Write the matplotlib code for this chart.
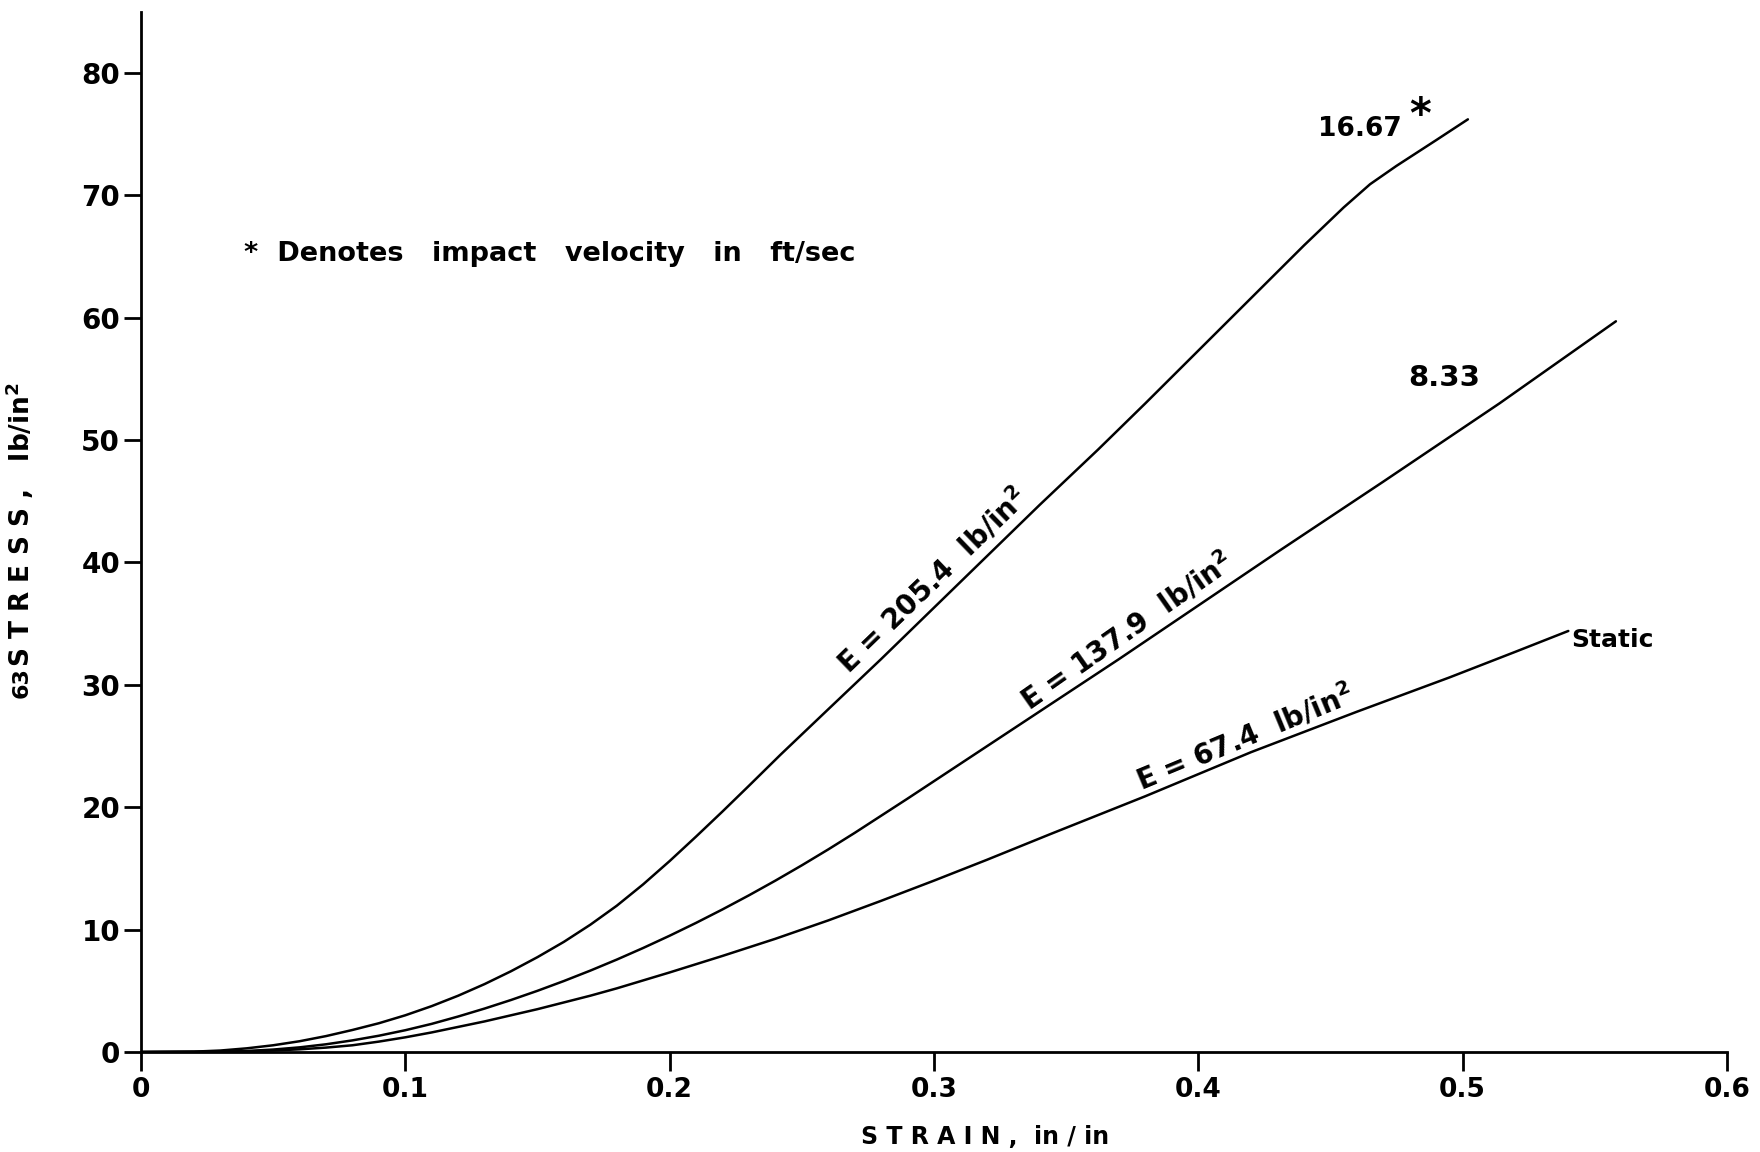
import matplotlib
matplotlib.use("Agg")
import matplotlib.pyplot as plt

# ---- data ----
strain_1667 = [0, 0.02, 0.03, 0.04, 0.05, 0.06, 0.07, 0.08, 0.09, 0.10, 0.11, 0.12, 0.13,
               0.14, 0.15, 0.16, 0.17, 0.18, 0.19, 0.20, 0.21, 0.22, 0.23, 0.242, 0.26,
               0.28, 0.30, 0.32, 0.34, 0.362, 0.38, 0.40, 0.42, 0.44, 0.455, 0.465,
               0.475, 0.49, 0.502]
stress_1667 = [0, 0.03, 0.12, 0.3, 0.55, 0.88, 1.3, 1.8, 2.35, 3.0, 3.75, 4.6, 5.55,
               6.6, 7.75, 9.0, 10.4, 11.95, 13.7, 15.6, 17.6, 19.65, 21.75, 24.3, 28.0,
               32.1, 36.3, 40.5, 44.7, 49.2, 53.0, 57.3, 61.6, 65.9, 69.0, 70.9,
               72.4, 74.5, 76.2]

strain_833 = [0, 0.03, 0.04, 0.05, 0.06, 0.07, 0.08, 0.09, 0.10, 0.11, 0.12, 0.13, 0.14,
              0.15, 0.16, 0.17, 0.18, 0.19, 0.20, 0.21, 0.22, 0.23, 0.24, 0.25, 0.26,
              0.27, 0.28, 0.29, 0.33, 0.37, 0.431, 0.47, 0.514, 0.558]
stress_833 = [0, 0.02, 0.08, 0.2, 0.38, 0.63, 0.95, 1.33, 1.78, 2.3, 2.9, 3.55, 4.25,
              5.0, 5.8, 6.65, 7.55, 8.5, 9.5, 10.55, 11.65, 12.8, 14.0, 15.25, 16.55,
              17.9, 19.3, 20.7, 26.4, 32.1, 41.0, 46.6, 53.0, 59.7]

strain_static = [0, 0.03, 0.04, 0.05, 0.06, 0.07, 0.08, 0.09, 0.10, 0.11, 0.12, 0.13,
                 0.14, 0.15, 0.16, 0.17, 0.18, 0.19, 0.20, 0.22, 0.24, 0.26, 0.28, 0.30,
                 0.32, 0.344, 0.38, 0.42, 0.46, 0.495, 0.52, 0.54]
stress_static = [0, 0.02, 0.06, 0.12, 0.22, 0.36, 0.55, 0.85, 1.2, 1.6, 2.05, 2.5,
                 3.0, 3.5, 4.05, 4.6, 5.2, 5.85, 6.5, 7.85, 9.25, 10.75, 12.35, 14.0,
                 15.7, 17.8, 20.9, 24.5, 27.8, 30.6, 32.7, 34.4]

x_ticks = [0, 0.1, 0.2, 0.3, 0.4, 0.5, 0.6]
x_tick_labels = ["0", "0.1", "0.2", "0.3", "0.4", "0.5", "0.6"]
y_ticks = [0, 10, 20, 30, 40, 50, 60, 70, 80]
y_tick_labels = ["0", "10", "20", "30", "40", "50", "60", "70", "80"]

end_labels = ["16.67", "8.33", "Static"]
modulus_labels = [r"E = 205.4  lb/in$^2$", r"E = 137.9  lb/in$^2$", r"E = 67.4  lb/in$^2$"]

# ---- style ----
plt.rcParams["font.family"] = ["DejaVu Sans"]
plt.rcParams["font.weight"] = "bold"
plt.rcParams["mathtext.fontset"] = "custom"
plt.rcParams["mathtext.rm"] = "DejaVu Sans:bold"
plt.rcParams["mathtext.default"] = "rm"

fig = plt.figure(figsize=(17.6, 11.52), dpi=100)
ax = fig.add_axes([0.0801, 0.0868, 0.9011, 0.9031])

lw = 1.8
for xs, ys in [(strain_1667, stress_1667), (strain_833, stress_833),
               (strain_static, stress_static)]:
    ax.plot(xs, ys, color="black", lw=lw, solid_capstyle="round",
            solid_joinstyle="round")

ax.set_xlim(0, 0.6)
ax.set_ylim(0, 85)

for s in ["top", "right"]:
    ax.spines[s].set_visible(False)
for s in ["left", "bottom"]:
    ax.spines[s].set_linewidth(2.0)

ax.set_xticks(x_ticks)
ax.set_xticklabels(x_tick_labels)
ax.set_yticks(y_ticks)
ax.set_yticklabels(y_tick_labels)
ax.tick_params(axis="x", direction="out", length=14, width=2.0, pad=4,
               labelsize=19)
ax.tick_params(axis="y", direction="out", length=12, width=2.0, pad=3,
               labelsize=20)
for lab in ax.get_xticklabels() + ax.get_yticklabels():
    lab.set_fontweight("bold")

# axis titles
fig.text(985 / 1760, 1 - 1137 / 1152, "S T R A I N ,  in / in", ha="center",
         va="center", fontsize=17, fontweight="bold")
fig.text(20 / 1760, 1 - 525 / 1152, r"S T R E S S ,   lb/in$^2$", ha="center",
         va="center", rotation=90, fontsize=19, fontweight="bold")
fig.text(22 / 1760, 1 - 683 / 1152, "63", ha="center", va="center",
         rotation=90, fontsize=16, fontweight="bold")

# curve end labels
ax.text(0.461, 75.4, end_labels[0], ha="center", va="center", fontsize=19,
        fontweight="bold")
ax.text(0.484, 76.5, "*", ha="center", va="center", fontsize=30,
        fontweight="bold")
ax.text(0.493, 55.1, end_labels[1], ha="center", va="center", fontsize=21,
        fontweight="bold")
ax.text(0.541, 33.7, end_labels[2], ha="left", va="center", fontsize=18,
        fontweight="bold")

# modulus labels along curves
ax.text(0.302, 38.0, modulus_labels[0], ha="center", va="baseline",
        rotation=44, rotation_mode="anchor", fontsize=20, fontweight="bold")
ax.text(0.375, 33.7, modulus_labels[1], ha="center", va="baseline",
        rotation=35, rotation_mode="anchor", fontsize=20, fontweight="bold")
ax.text(0.419, 25.0, modulus_labels[2], ha="center", va="baseline",
        rotation=22.5, rotation_mode="anchor", fontsize=20, fontweight="bold")

# note
ax.text(0.039, 65.2, "*  Denotes   impact   velocity   in   ft/sec", ha="left",
        va="center", fontsize=19.5, fontweight="bold")

fig.savefig("out.png", dpi=100)
